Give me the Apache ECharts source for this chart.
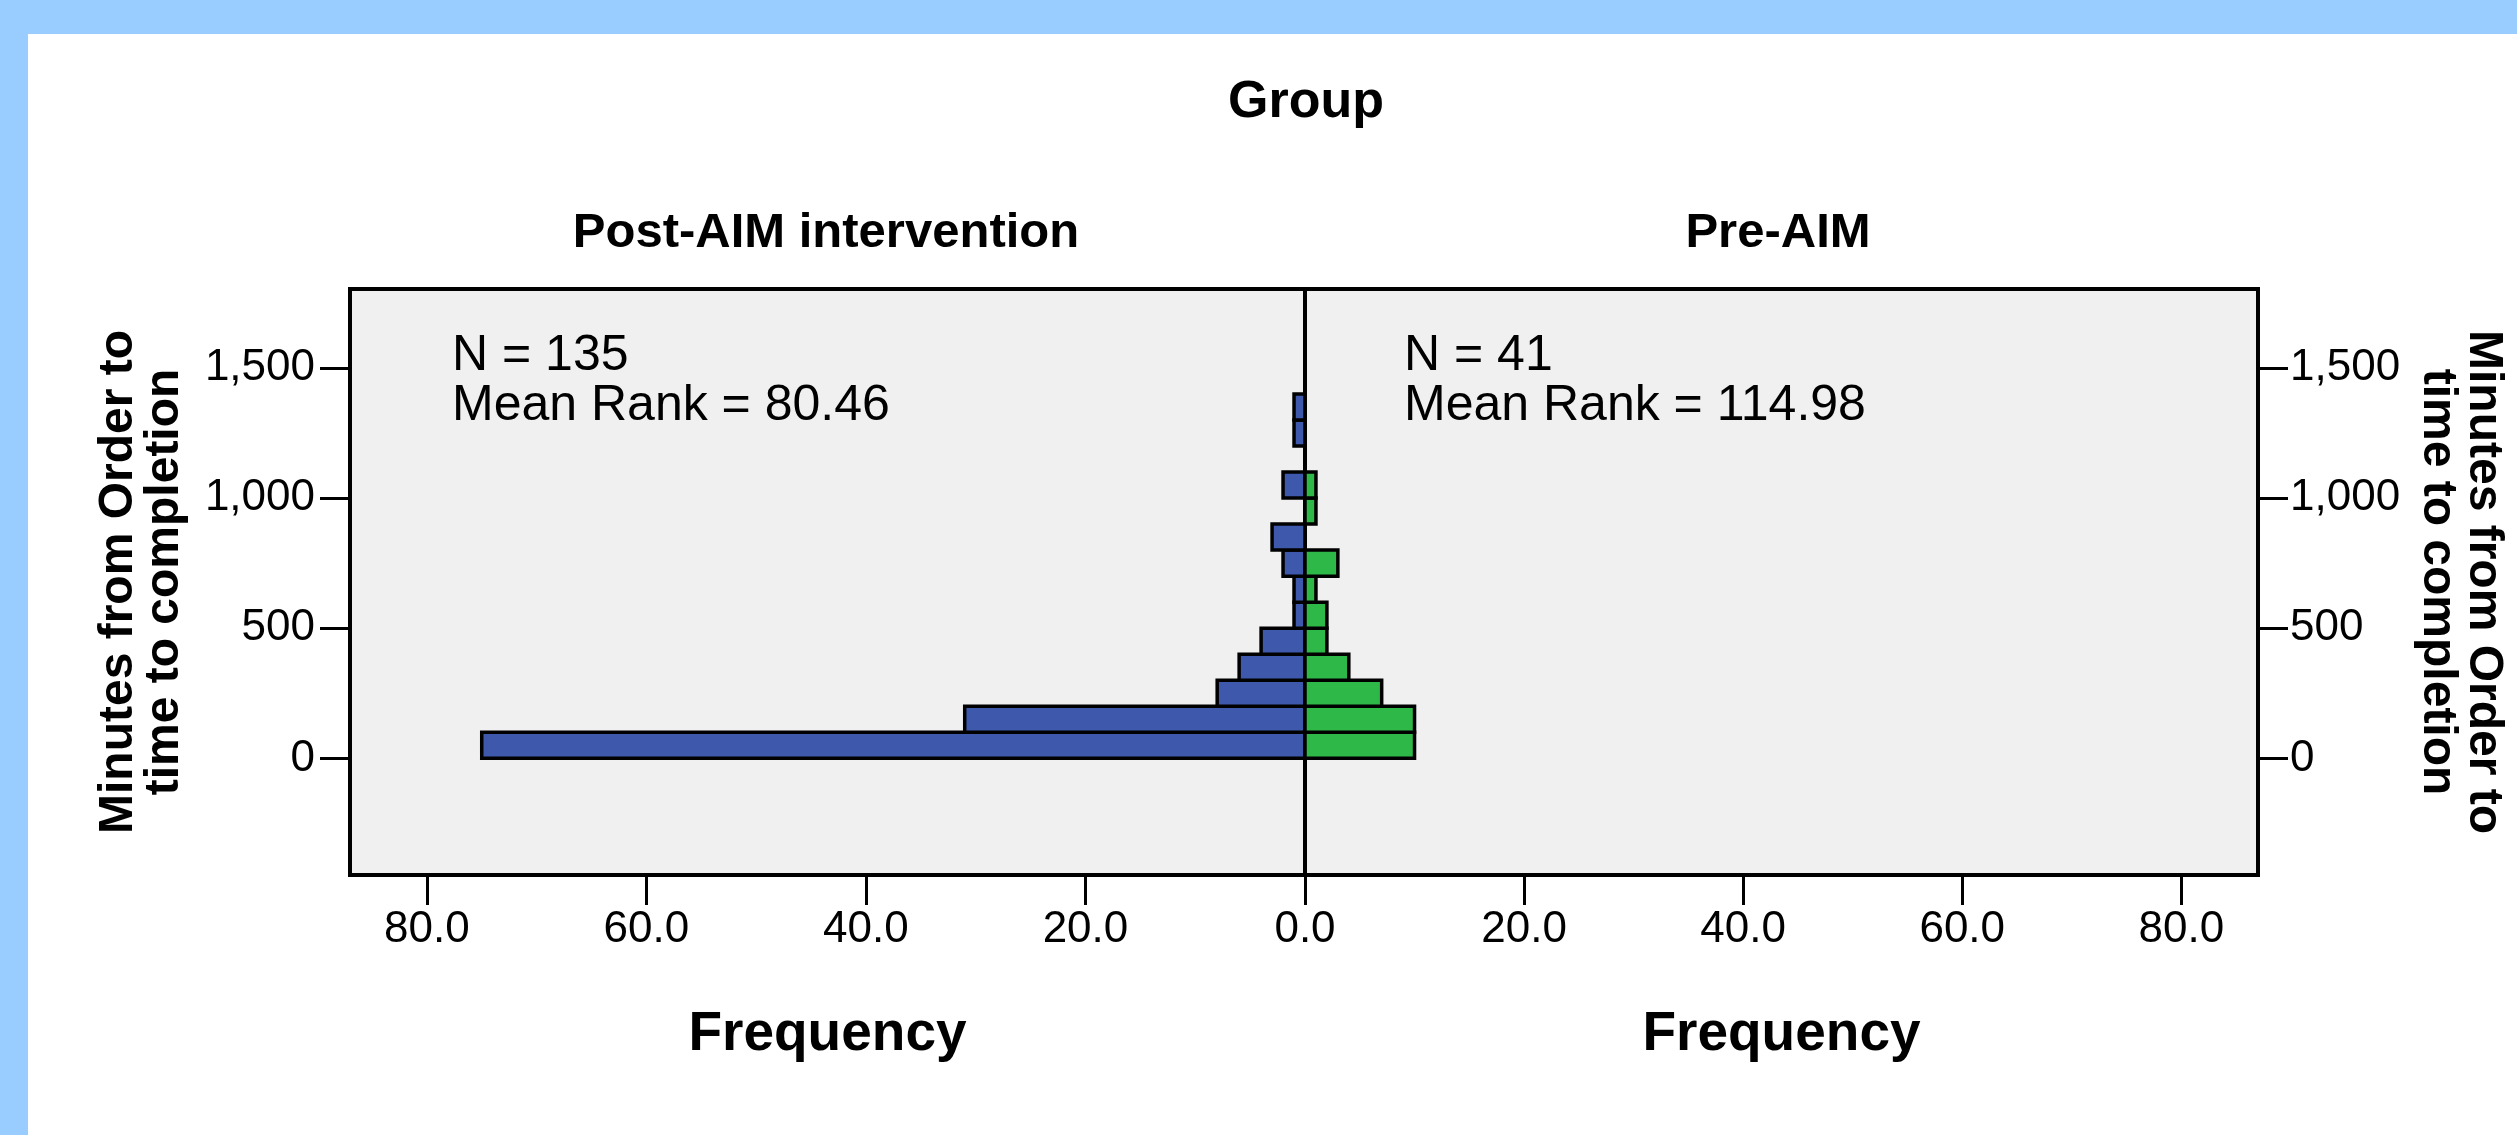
<!DOCTYPE html>
<html><head><meta charset="utf-8">
<script src="https://cdn.jsdelivr.net/npm/echarts@6/dist/echarts.min.js"></script>
<style>html,body{margin:0;padding:0;background:#fff;}#chart{width:2517px;height:1135px;}</style>
</head><body><div id="chart"></div>
<script>
// ---- data ----
const binStarts = [0, 100, 200, 300, 400, 500, 600, 700, 800, 900, 1000, 1100, 1200, 1300];
const binWidth = 100;
const postCounts = [75, 31, 8, 6, 4, 1, 1, 2, 3, 0, 2, 0, 1, 1];   // Post-AIM intervention
const preCounts  = [10, 10, 7, 4, 2, 2, 1, 3, 0, 1, 1, 0, 0, 0];  // Pre-AIM
const groupNames = ['Post-AIM intervention', 'Pre-AIM'];
const groupN = [135, 41];
const meanRanks = ['80.46', '114.98'];
const freqTicks = [0, 20, 40, 60, 80];
const minuteTicks = [0, 500, 1000, 1500];
const yTitle = 'Minutes from Order to\ntime to completion';
const xTitle = 'Frequency';
const chartTitle = 'Group';

// ---- layout / style ----
const FF = 'Arial, "Liberation Sans", sans-serif';
const BLUE = '#3E58AC', GREEN = '#2EB848';
const G = {top: 289, height: 586, left0: 350, mid: 1305, right1: 2258};

function rows(counts) {
  return binStarts.map((s, i) => [s, s + binWidth, counts[i]]).filter(r => r[2] > 0);
}
function makeRender(color) {
  return function (params, api) {
    const p0 = api.coord([0, api.value(0)]);
    const p1 = api.coord([api.value(2), api.value(1)]);
    return {
      type: 'rect',
      shape: {x: Math.min(p0[0], p1[0]), y: Math.min(p0[1], p1[1]),
              width: Math.abs(p1[0] - p0[0]), height: Math.abs(p1[1] - p0[1])},
      style: {fill: color, stroke: '#000', lineWidth: 3.5}
    };
  };
}
const fmtFreq = v => Number(v).toFixed(1);
const fmtMin = v => Number(v).toLocaleString('en-US');

function xAxisFor(idx, inverse, labelVals) {
  return {
    gridIndex: idx, type: 'value', inverse: inverse, min: 0, max: 87, position: 'bottom',
    axisLine: {show: false, onZero: false}, splitLine: {show: false},
    axisTick: {show: true, length: 30, customValues: freqTicks, lineStyle: {color: '#000', width: 3}},
    axisLabel: {customValues: labelVals, formatter: fmtFreq, fontSize: 44, color: '#000', fontFamily: FF, margin: 33},
    name: xTitle, nameLocation: 'middle', nameGap: 132,
    nameTextStyle: {fontSize: 55, fontWeight: 'bold', color: '#000', fontFamily: FF}
  };
}
function yAxisFor(idx, pos, rot, gap, margin) {
  return {
    gridIndex: idx, type: 'value', position: pos, min: -448, max: 1803,
    axisLine: {show: false, onZero: false}, splitLine: {show: false},
    axisTick: {show: true, length: 30, customValues: minuteTicks, lineStyle: {color: '#000', width: 3}},
    axisLabel: {customValues: minuteTicks, formatter: fmtMin, fontSize: 44, color: '#000', fontFamily: FF, margin: margin},
    name: yTitle, nameLocation: 'middle', nameRotate: rot, nameGap: gap,
    nameTextStyle: {fontSize: 48, fontWeight: 'bold', color: '#000', fontFamily: FF, lineHeight: 46, align: 'center'}
  };
}
const gridBase = {top: G.top, height: G.height, show: true, backgroundColor: '#F0F0F0',
                  borderColor: '#000', borderWidth: 4, containLabel: false, outerBoundsMode: 'none'};

const chart = echarts.init(document.getElementById('chart'), null, {renderer: 'canvas'});
chart.setOption({
  backgroundColor: '#ffffff',
  animation: false,
  grid: [
    Object.assign({}, gridBase, {left: G.left0, width: G.mid - G.left0}),
    Object.assign({}, gridBase, {left: G.mid, width: G.right1 - G.mid})
  ],
  xAxis: [xAxisFor(0, true, freqTicks), xAxisFor(1, false, freqTicks.filter(v => v !== 0))],
  yAxis: [yAxisFor(0, 'left', 90, 162, 35), yAxisFor(1, 'right', -90, 156, 32)],
  series: [
    {type: 'custom', name: groupNames[0], xAxisIndex: 0, yAxisIndex: 0, data: rows(postCounts),
     encode: {x: 2, y: [0, 1]}, renderItem: makeRender(BLUE), silent: true, clip: false},
    {type: 'custom', name: groupNames[1], xAxisIndex: 1, yAxisIndex: 1, data: rows(preCounts),
     encode: {x: 2, y: [0, 1]}, renderItem: makeRender(GREEN), silent: true, clip: false}
  ],
  graphic: [
    {type: 'rect', shape: {x: 0, y: 0, width: 2517, height: 34}, style: {fill: '#99CCFF'}, silent: true},
    {type: 'rect', shape: {x: 0, y: 0, width: 28, height: 1135}, style: {fill: '#99CCFF'}, silent: true},
    {type: 'text', x: 1306, y: 103, style: {text: chartTitle, fontSize: 52, fontWeight: 'bold', fontFamily: FF, fill: '#000', align: 'center', verticalAlign: 'middle'}},
    {type: 'text', x: 826, y: 233, style: {text: groupNames[0], fontSize: 49, fontWeight: 'bold', fontFamily: FF, fill: '#000', align: 'center', verticalAlign: 'middle'}},
    {type: 'text', x: 1778, y: 233, style: {text: groupNames[1], fontSize: 49, fontWeight: 'bold', fontFamily: FF, fill: '#000', align: 'center', verticalAlign: 'middle'}},
    {type: 'text', x: 452, y: 331, style: {text: 'N = ' + groupN[0] + '\nMean Rank = ' + meanRanks[0], fontSize: 50, lineHeight: 50, fontFamily: FF, fill: '#000', align: 'left', verticalAlign: 'top'}},
    {type: 'text', x: 1404, y: 331, style: {text: 'N = ' + groupN[1] + '\nMean Rank = ' + meanRanks[1], fontSize: 50, lineHeight: 50, fontFamily: FF, fill: '#000', align: 'left', verticalAlign: 'top'}}
  ]
});
</script></body></html>
